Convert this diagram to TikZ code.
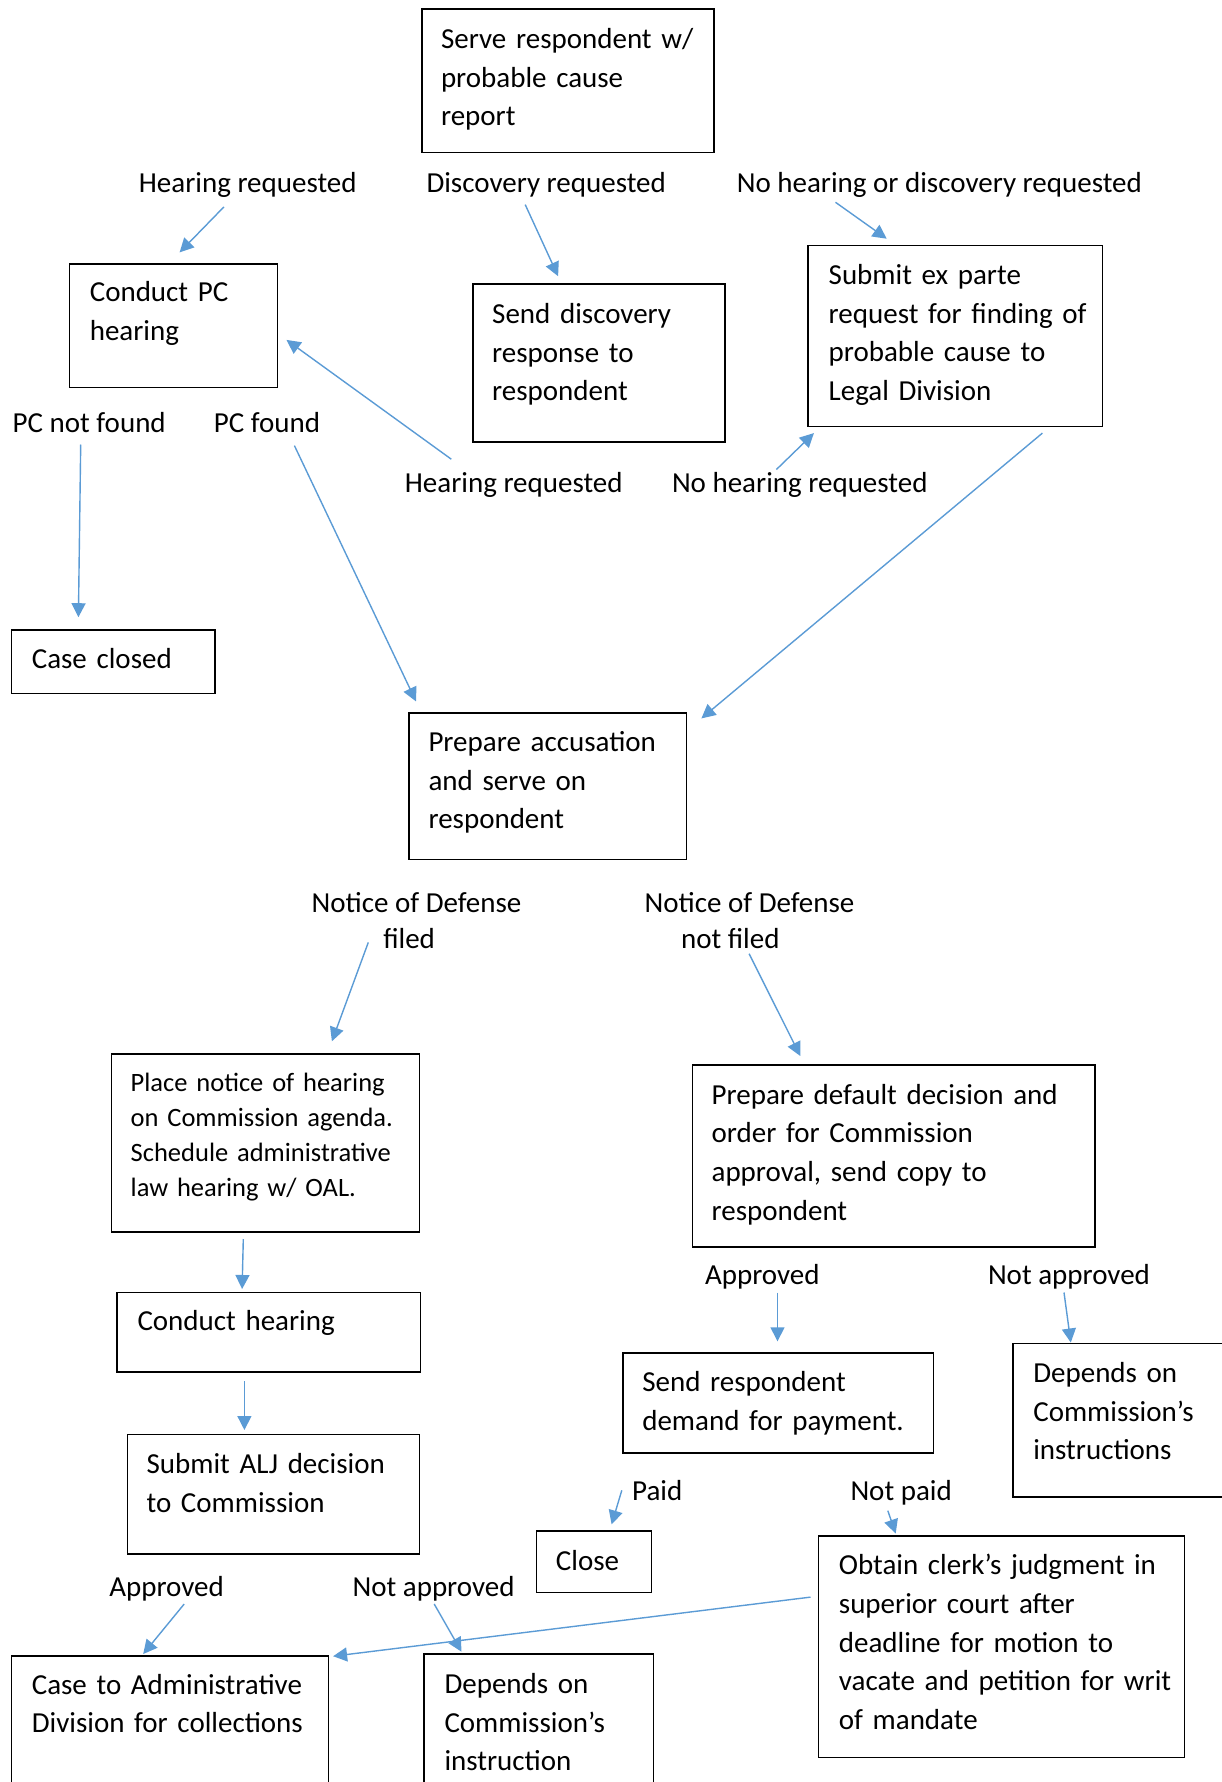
\documentclass[tikz,border=0pt]{standalone}
\usepackage{fontspec}
\setmainfont{Carlito}
\usetikzlibrary{arrows.meta}
\definecolor{arrblue}{HTML}{5B9BD5}
\newcommand{\bodyfont}{\fontsize{29}{38.6}\selectfont}
\newcommand{\smallbodyfont}{\fontsize{26.5}{35.2}\selectfont}
\newcommand{\tightfont}{\fontsize{29}{36.4}\selectfont}
\tikzset{
  box/.style={draw=black, line width=1.6pt, anchor=north west, inner ysep=0pt, outer sep=0pt, align=left, font=\bodyfont},
  lbl/.style={anchor=base west, inner sep=0pt, align=left, font=\bodyfont},
  arr/.style={draw=arrblue, line width=1.4pt, -{Triangle[length=14pt,width=14pt]}}
}
\begin{document}
\begin{tikzpicture}[x=1pt,y=-1pt]
\useasboundingbox (0,0) rectangle (1222,1782);
% boxes
\node[box, inner xsep=19.3pt, text width=253.6pt, text height=39.5pt, text depth=103.7pt] (serve) at (421.7,9.1) {Serve respondent w/\\probable cause\\report};
\node[box, inner xsep=20.5pt, text width=167.1pt, text height=38.0pt, text depth=85.9pt] (pc) at (69.3,263.7) {Conduct PC\\hearing};
\node[box, inner xsep=19.3pt, text width=213.7pt, text height=39.5pt, text depth=118.5pt] (disc) at (472.9,284.2) {Send discovery\\response to\\respondent};
\node[box, inner xsep=20.5pt, text width=253.4pt, text height=39.0pt, text depth=141.8pt] (expar) at (808.2,245.5) {Submit ex parte\\\mbox{request for finding of}\\probable cause to\\Legal Division};
\node[box, inner xsep=20.4pt, text width=162.6pt, text height=39.0pt, text depth=24.6pt] (closed) at (11.4,629.8) {Case closed};
\node[box, inner xsep=19.3pt, text width=238.8pt, text height=39.0pt, text depth=107.7pt] (accus) at (409.2,712.7) {Prepare accusation\\and serve on\\respondent};
\node[box, font=\smallbodyfont, inner xsep=19.3pt, text width=269.5pt, text height=37.2pt, text depth=141.2pt] (place) at (111.4,1053.8) {Place notice of hearing\\on Commission agenda.\\Schedule administrative\\law hearing w/ OAL.};
\node[box, inner xsep=19.3pt, text width=363.8pt, text height=39.1pt, text depth=142.8pt] (default) at (692.3,1065.1) {Prepare default decision and\\order for Commission\\approval, send copy to\\respondent};
\node[box, inner xsep=20.4pt, text width=262.7pt, text height=38.0pt, text depth=41.6pt] (hear) at (117.1,1292.5) {Conduct hearing};
\node[box, inner xsep=19.4pt, text width=271.6pt, text height=39.1pt, text depth=60.9pt] (demand) at (622.9,1352.7) {Send respondent\\demand for payment.};
\node[box, inner xsep=20.5pt, text width=189pt, text height=39.1pt, text depth=114.4pt] (depR) at (1012.8,1343.6) {Depends on\\Commission’s\\instructions};
\node[box, inner xsep=19.3pt, text width=253.6pt, text height=39.0pt, text depth=80.3pt] (alj) at (127.3,1434.6) {Submit ALJ decision\\to Commission};
\node[box, inner xsep=19.4pt, text width=76.1pt, text height=39.0pt, text depth=22.4pt] (close) at (536.5,1531.2) {Close};
\node[box, inner xsep=20.4pt, text width=325.2pt, text height=39.1pt, text depth=182.6pt] (obtain) at (818.5,1535.7) {Obtain clerk’s judgment in\\superior court after\\deadline for motion to\\\mbox{vacate and petition for writ}\\of mandate};
\node[box, inner xsep=20.4pt, text width=276.3pt, text height=38.0pt, text depth=112.0pt] (admin) at (11.4,1656.2) {Case to Administrative\\Division for collections};
\node[box, inner xsep=20.5pt, text width=188.6pt, text height=39.6pt, text depth=110.4pt] (depL) at (424.0,1654.0) {Depends on\\Commission’s\\instruction};
% labels
\node[lbl] (hr1) at (138.7,192.5) {Hearing requested};
\node[lbl] (dreq) at (426.3,192.5) {Discovery requested};
\node[lbl] (nohd) at (736.6,192.5) {No hearing or discovery requested};
\node[lbl] (pcnf) at (12.5,432.4) {PC not found};
\node[lbl] (pcf) at (213.7,432.4) {PC found};
\node[lbl] (hr2) at (404.7,492.6) {Hearing requested};
\node[lbl] (nhr) at (671.8,492.6) {No hearing requested};
\node[lbl, font=\tightfont] (nodf) at (311.5,948.4) {Notice of Defense\\\hspace*{71.6pt}filed};
\node[lbl, font=\tightfont] (nodnf) at (644.5,948.4) {Notice of Defense\\\hspace*{36.4pt}not filed};
\node[lbl] (appR) at (704.8,1284.9) {Approved};
\node[lbl] (naR) at (987.8,1284.9) {Not approved};
\node[lbl] (paid) at (632.0,1500.9) {Paid};
\node[lbl] (npaid) at (850.3,1500.9) {Not paid};
\node[lbl] (appL) at (109.1,1596.4) {Approved};
\node[lbl] (naL) at (352.4,1596.4) {Not approved};
% connector end points
\coordinate (a1s) at (223.9,206.9);  \coordinate (a1e) at (179.6,252.4);
\coordinate (a2s) at (525.2,204.6);  \coordinate (a2e) at (558.1,276.2);
\coordinate (a3s) at (835.5,202.3);  \coordinate (a3e) at (886.7,238.7);
\coordinate (a4s) at (451.3,459.2);  \coordinate (a4e) at (286.5,339.9);
\coordinate (a5s) at (776.4,469.5);  \coordinate (a5e) at (813.9,433.1);
\coordinate (a6s) at (80.7,444.5);   \coordinate (a6e) at (78.4,617.2);
\coordinate (a7s) at (294.4,445.6);  \coordinate (a7e) at (416.0,701.4);
\coordinate (a8s) at (1042.4,433.1); \coordinate (a8e) at (701.4,718.4);
\coordinate (a9s) at (368.3,942.4);  \coordinate (a9e) at (331.9,1041.3);
\coordinate (a10s) at (749.1,953.7); \coordinate (a10e) at (800.3,1056.0);
\coordinate (a11s) at (243.3,1239.0); \coordinate (a11e) at (242.1,1289.0);
\coordinate (a12s) at (244.4,1381.1); \coordinate (a12e) at (244.4,1430.0);
\coordinate (a13s) at (777.5,1292.5); \coordinate (a13e) at (777.5,1341.3);
\coordinate (a14s) at (1064.0,1292.5); \coordinate (a14e) at (1070.8,1342.5);
\coordinate (a15s) at (621.8,1490.3); \coordinate (a15e) at (611.6,1524.4);
\coordinate (a16s) at (887.8,1510.7); \coordinate (a16e) at (895.7,1533.5);
\coordinate (a17s) at (184.2,1604.0); \coordinate (a17e) at (143.2,1654.0);
\coordinate (a18s) at (434.2,1604.0); \coordinate (a18e) at (461.5,1651.7);
\coordinate (a19s) at (810.5,1597.1); \coordinate (a19e) at (333.1,1656.2);
% connectors
\draw[arr] (a1s) -- (a1e);
\draw[arr] (a2s) -- (a2e);
\draw[arr] (a3s) -- (a3e);
\draw[arr] (a4s) -- (a4e);
\draw[arr] (a5s) -- (a5e);
\draw[arr] (a6s) -- (a6e);
\draw[arr] (a7s) -- (a7e);
\draw[arr] (a8s) -- (a8e);
\draw[arr] (a9s) -- (a9e);
\draw[arr] (a10s) -- (a10e);
\draw[arr] (a11s) -- (a11e);
\draw[arr] (a12s) -- (a12e);
\draw[arr] (a13s) -- (a13e);
\draw[arr] (a14s) -- (a14e);
\draw[arr] (a15s) -- (a15e);
\draw[arr] (a16s) -- (a16e);
\draw[arr] (a17s) -- (a17e);
\draw[arr] (a18s) -- (a18e);
\draw[arr] (a19s) -- (a19e);
\end{tikzpicture}
\end{document}
